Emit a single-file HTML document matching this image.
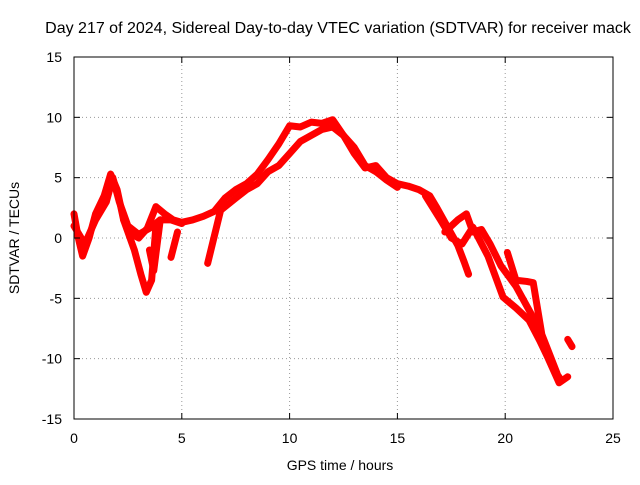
<!DOCTYPE html>
<html><head><meta charset="utf-8"><style>
html,body{margin:0;padding:0;background:#fff;}
svg text{font-family:"Liberation Sans",sans-serif;font-size:14px;fill:#000;}
</style></head><body>
<svg width="640" height="480" xmlns="http://www.w3.org/2000/svg">
<rect width="640" height="480" fill="#fff"/>
<text x="338" y="33" text-anchor="middle" style="font-size:16px">Day 217 of 2024, Sidereal Day-to-day VTEC variation (SDTVAR) for receiver mack</text>
<g id="grid"></g>
<g id="marks"></g>
<rect x="74" y="57" width="539" height="362" fill="none" stroke="#000"/>
<g id="ticks"></g>
<text x="340" y="470" text-anchor="middle">GPS time / hours</text>
<text transform="translate(19,238) rotate(-90)" text-anchor="middle">SDTVAR / TECUs</text>
</svg>
<script>
const xTicks=[0,5,10,15,20,25];
const yTicks=[15,10,5,0,-5,-10,-15];
const trackA_t=[0,0.2,0.4,0.7,1.0,1.4,1.7,2.0,2.3,2.7,3.0,3.4,3.8,4.2,4.6,5.0,5.5,6.0,6.5,7.0,7.5,8.0,8.5,9.0,9.5,10,10.5,11,11.5,12,12.5,13,13.5,14,14.5,15,15.5,16,16.5,16.8,17.3,17.8,18.1,18.3];
const trackA_v=[2,0,-1.5,0,2,3.5,5.3,4,1.5,0.3,0,0.8,2.6,2,1.5,1.3,1.5,1.8,2.2,3.3,4,4.5,5.3,6.5,7.8,9.3,9.2,9.6,9.5,9.8,8.5,7,5.8,6,5,4.5,4.3,4,3.5,2.6,1,-0.6,-2,-3];
const trackB_t=[2.3,2.8,3.1,3.35,3.6,3.8];
const trackB_v=[1.5,-1,-3,-4.5,-3.5,1];
const trackB2_t=[3.5,3.7,4.0];
const trackB2_v=[-1,-2.7,1.5];
const trackB3_t=[4.5,4.8];
const trackB3_v=[-1.6,0.5];
const trackC_t=[6.2,6.8,7.5,8,8.5,9,9.5,10,10.5,11,11.5,12,12.5,13,13.5,14,14.5,15];
const trackC_v=[-2.1,2.3,3.3,4,4.5,5.5,6,7,8,8.5,9,9.2,8.5,7.5,6,5.5,4.8,4.2];
const trackD_t=[16.3,17,17.5,18,18.5,19.2,19.9,20.5,21.1,21.6,22,22.5,22.9];
const trackD_v=[3.5,1.5,0,-0.5,0.9,-1.5,-4.9,-5.8,-6.8,-8.5,-10,-12,-11.5];
const trackE_t=[17.2,17.8,18.2,18.5,18.9,19.3,19.8,20.5,21.3,21.8,22.3,22.6];
const trackE_v=[0.5,1.5,2,0.5,0.7,-0.5,-2.3,-4,-6.6,-9,-11,-11.8];
const trackF_t=[0,0.5,1,1.5,1.8,2.1,2.5,3,3.5,4,4.5,5];
const trackF_v=[1,-0.5,1.5,3,5,3,1,0.3,0.8,1.5,1.5,1.2];
const trackG_t=[20.1,20.5,21.0,21.3,21.7,22.4];
const trackG_v=[-1.2,-3.5,-3.6,-3.7,-8,-11.2];
const trackH_t=[22.9,23.1];
const trackH_v=[-8.4,-9];
const X=t=>74+t*(539/25);
const Y=v=>238-v*(362/30);
const NS='http://www.w3.org/2000/svg';
const grid=document.getElementById('grid'),ticks=document.getElementById('ticks'),marks=document.getElementById('marks');
function mk(tag,attrs,parent){const e=document.createElementNS(NS,tag);for(const k in attrs)e.setAttribute(k,attrs[k]);parent.appendChild(e);return e;}
xTicks.forEach(t=>{const x=X(t);
 if(t>0&&t<25){const g=mk('line',{x1:x,y1:57,x2:x,y2:419,stroke:'#999','stroke-dasharray':'1,3'},grid);}
 mk('line',{x1:x,y1:419,x2:x,y2:413,stroke:'#000'},ticks);mk('line',{x1:x,y1:57,x2:x,y2:63,stroke:'#000'},ticks);
 const l=mk('text',{x:x,y:443,'text-anchor':'middle'},ticks);l.textContent=t;
 });
yTicks.forEach(v=>{const y=Y(v);
 if(v>-15&&v<15){const g=mk('line',{x1:74,y1:y,x2:613,y2:y,stroke:'#999','stroke-dasharray':'1,3'},grid);}
 mk('line',{x1:74,y1:y,x2:80,y2:y,stroke:'#000'},ticks);mk('line',{x1:613,y1:y,x2:607,y2:y,stroke:'#000'},ticks);
 const l=mk('text',{x:62,y:y+5,'text-anchor':'end'},ticks);l.textContent=v;
 });
[[trackA_t,trackA_v],[trackB_t,trackB_v],[trackB2_t,trackB2_v],[trackB3_t,trackB3_v],[trackC_t,trackC_v],[trackD_t,trackD_v],[trackE_t,trackE_v],[trackF_t,trackF_v],[trackG_t,trackG_v],[trackH_t,trackH_v]].forEach(([ts,vs])=>{
 const pts=ts.map((t,i)=>X(t)+','+Y(vs[i])).join(' ');
 const p=mk('polyline',{points:pts,fill:'none',stroke:'#f00','stroke-width':7,'stroke-linejoin':'round','stroke-linecap':'round'},marks);
 
 
});
</script>
</body></html>
